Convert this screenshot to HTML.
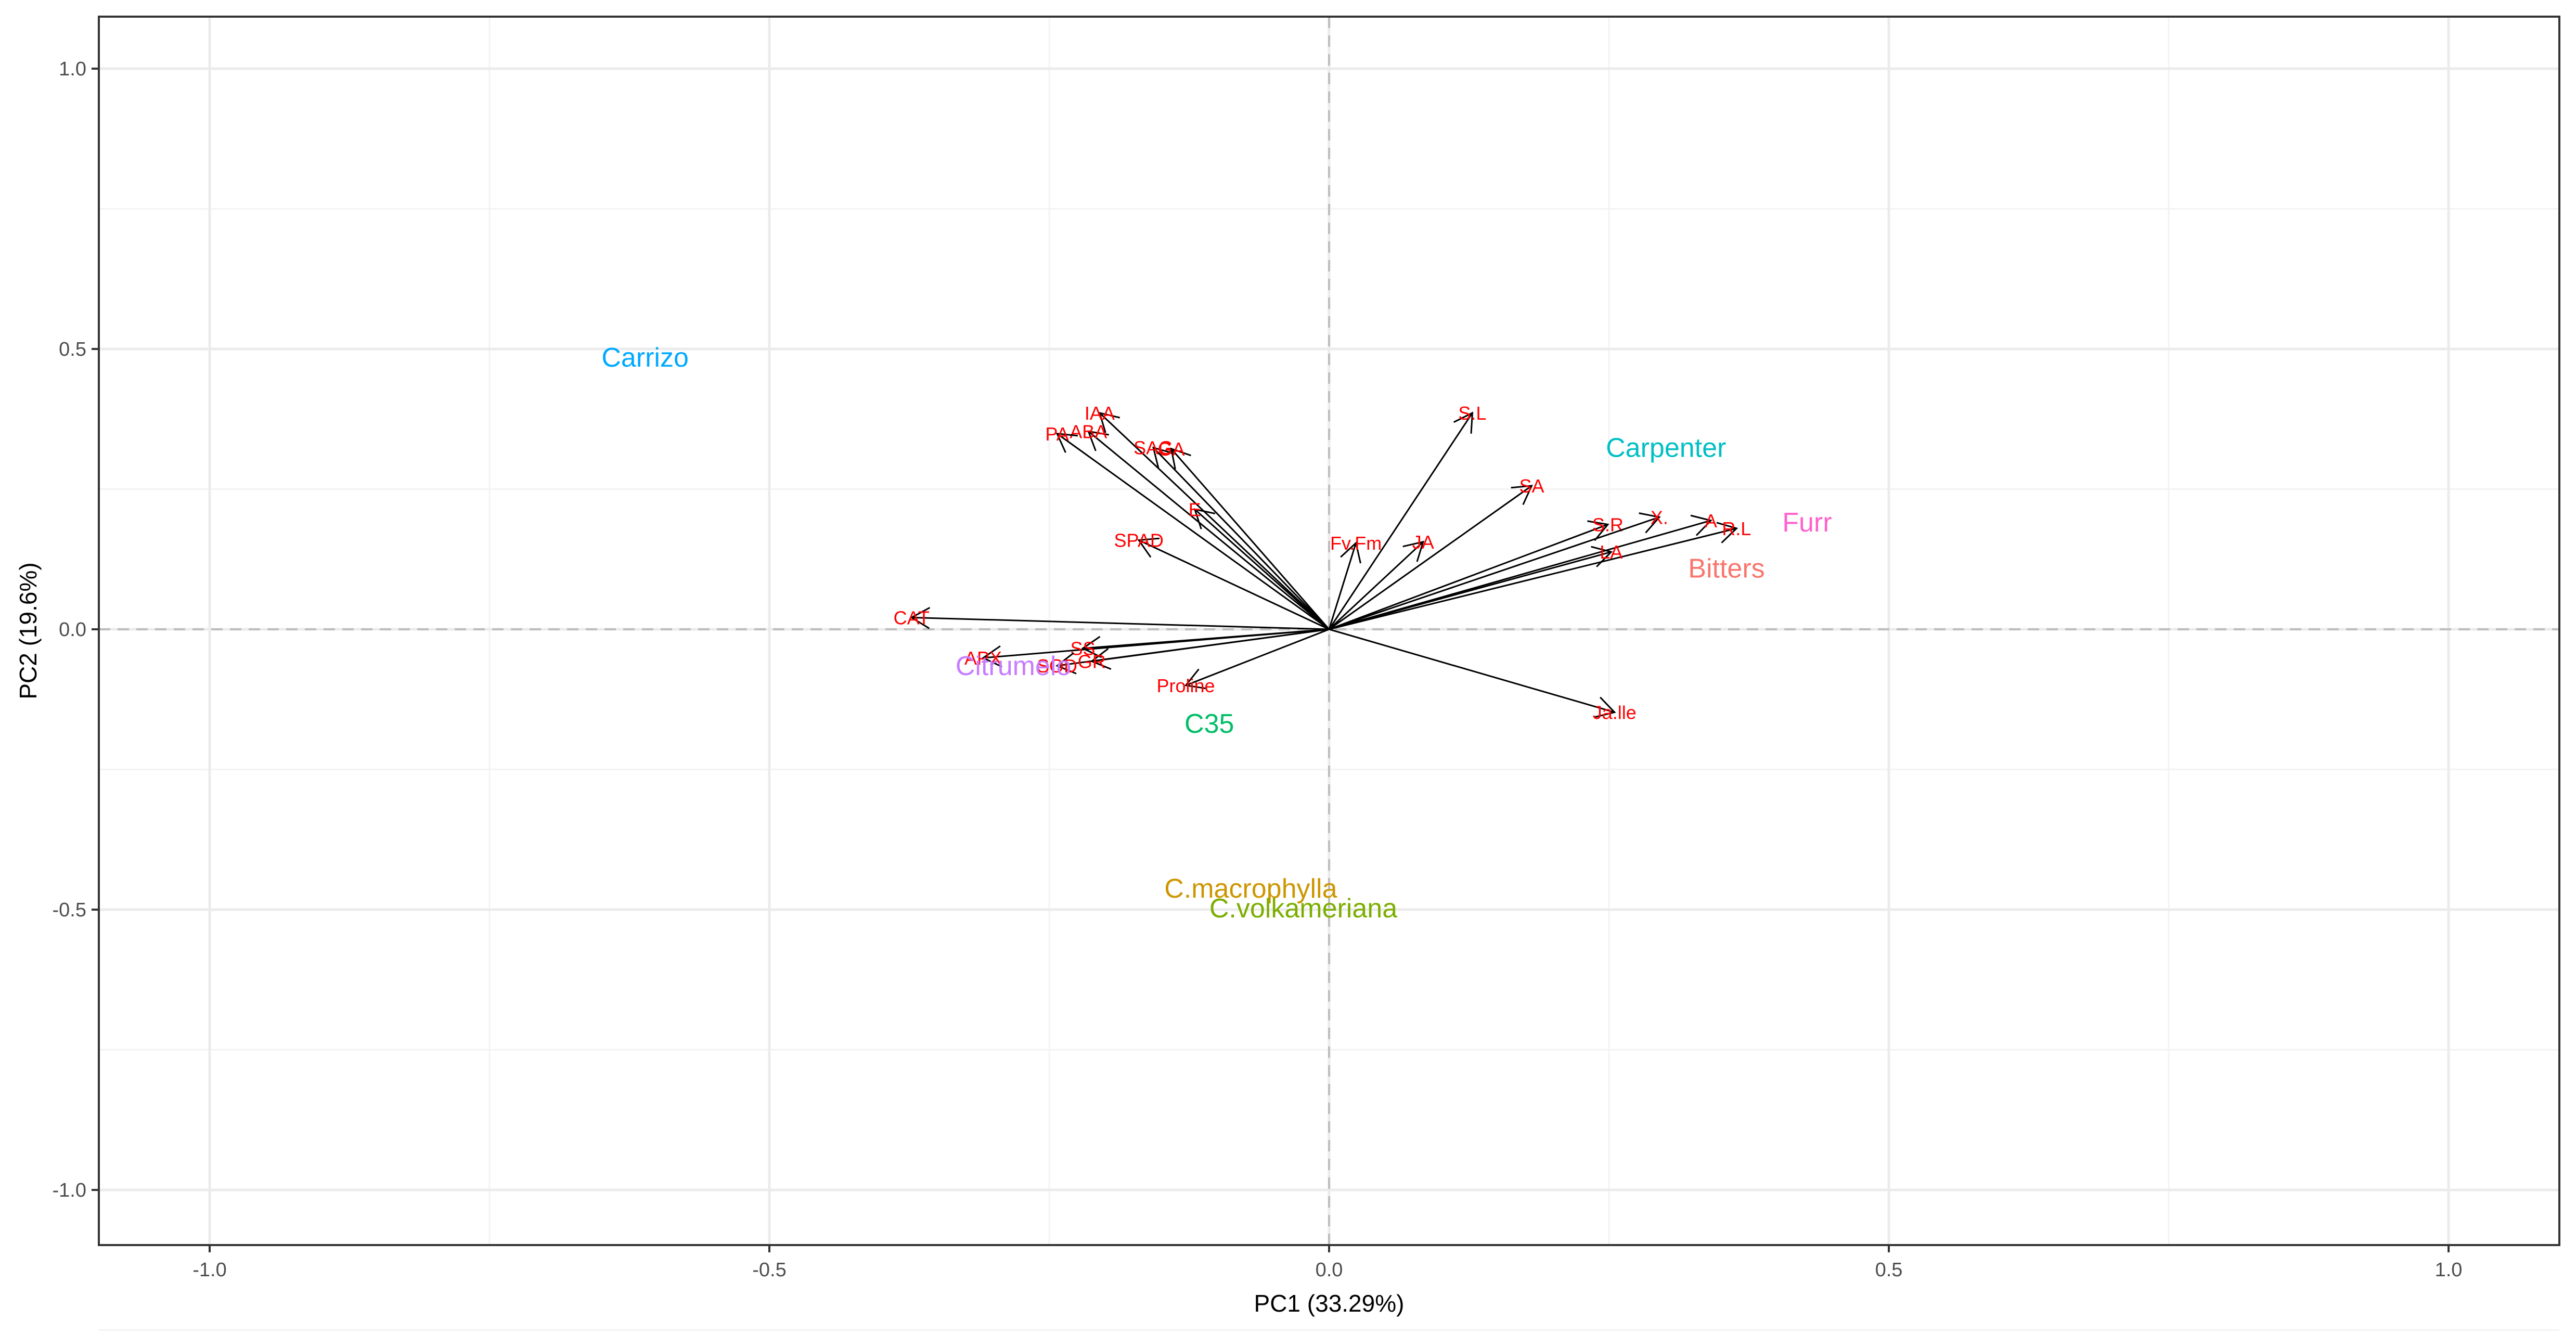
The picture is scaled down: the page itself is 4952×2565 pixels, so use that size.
<!DOCTYPE html>
<html><head><meta charset="utf-8"><style>
html,body{margin:0;padding:0;background:#fff;}
svg{display:block;font-family:"Liberation Sans",Arial,sans-serif;}
</style></head><body>
<svg id="chart" width="4952" height="2565" viewBox="0 0 4952 2565" xmlns="http://www.w3.org/2000/svg">
<rect x="0" y="0" width="4952" height="2565" fill="#fff"/>
<g id="grid"></g>
<g id="arrows"></g>
<g id="groups"></g>
<g id="axes"></g>
</svg>
<script>
const varNames = ["IAA","ABA","PA","SAG","GA","E","SPAD","CAT","APX","SS","SOD","GR","Proline","Fv.Fm","JA","S.L","SA","S.R","X.","A","R.L","LA","Ja.lle"];
const varPC1 = [-0.205,-0.215,-0.243,-0.157,-0.141,-0.120,-0.170,-0.373,-0.309,-0.220,-0.243,-0.212,-0.128,0.024,0.084,0.128,0.181,0.249,0.295,0.341,0.364,0.252,0.255];
const varPC2 = [0.386,0.353,0.349,0.324,0.322,0.214,0.159,0.021,-0.051,-0.034,-0.065,-0.057,-0.100,0.154,0.156,0.386,0.256,0.187,0.200,0.194,0.180,0.138,-0.148];
const groupNames = ["Carrizo","Carpenter","Furr","Bitters","Citrumelo","C35","C.macrophylla","C.volkameriana"];
const groupPC1 = [-0.611,0.301,0.427,0.355,-0.282,-0.107,-0.070,-0.023];
const groupPC2 = [0.485,0.324,0.191,0.109,-0.065,-0.168,-0.462,-0.497];
const groupColors = ["#00A9FF","#00BFC4","#FF61CC","#F8766D","#C77CFF","#00BE67","#CD9600","#7CAE00"];
const xTicks = [-1.0,-0.5,0.0,0.5,1.0];
const yTicks = [-1.0,-0.5,0.0,0.5,1.0];
const xTickLabels = ["-1.0","-0.5","0.0","0.5","1.0"];
const yTickLabels = ["-1.0","-0.5","0.0","0.5","1.0"];

const NS="http://www.w3.org/2000/svg";
const L=190,R=4920,T=32,B=2394;
const sx=v=>2555+v*2152;
const sy=v=>1210-v*1078;
function mk(tag,attrs,parent){const e=document.createElementNS(NS,tag);for(const k in attrs)e.setAttribute(k,attrs[k]);parent.appendChild(e);return e;}
const grid=document.getElementById('grid'),arrows=document.getElementById('arrows'),groups=document.getElementById('groups'),axes=document.getElementById('axes');

for(let i=-5;i<=5;i++){const v=i*0.25;if(Math.abs(i)%2===1){
 let g1=mk('line',{x1:sx(v),x2:sx(v),y1:T,y2:B,stroke:'#F3F3F3','stroke-width':3},grid);
 
 
 let g2=mk('line',{x1:L,x2:R,y1:sy(v),y2:sy(v),stroke:'#F3F3F3','stroke-width':3},grid);
 
 
}}
xTicks.forEach(v=>{let g=mk('line',{x1:sx(v),x2:sx(v),y1:T,y2:B,stroke:'#EBEBEB','stroke-width':5},grid);
 
 });
yTicks.forEach(v=>{let g=mk('line',{x1:L,x2:R,y1:sy(v),y2:sy(v),stroke:'#EBEBEB','stroke-width':5},grid);
 
 });
let zx=mk('line',{x1:sx(0),x2:sx(0),y1:T,y2:B,stroke:'#BEBEBE','stroke-width':4,'stroke-dasharray':'22 14'},grid);


let zy=mk('line',{x1:L,x2:R,y1:sy(0),y2:sy(0),stroke:'#BEBEBE','stroke-width':4,'stroke-dasharray':'22 14'},grid);



varNames.forEach((n,i)=>{
 const x0=sx(0),y0=sy(0),x1=sx(varPC1[i]),y1=sy(varPC2[i]);
 const g=mk('g',{},arrows);
 
 
 mk('line',{x1:x0,y1:y0,x2:x1,y2:y1,stroke:'#000','stroke-width':3},g);
 const a=Math.atan2(y1-y0,x1-x0),h=40,s=Math.PI/6;
 mk('polyline',{points:`${x1-h*Math.cos(a-s)},${y1-h*Math.sin(a-s)} ${x1},${y1} ${x1-h*Math.cos(a+s)},${y1-h*Math.sin(a+s)}`,fill:'none',stroke:'#000','stroke-width':3},g);
 const t=mk('text',{x:x1,y:y1+13,'font-size':36,fill:'#FF0000','text-anchor':'middle'},g);
 t.textContent=n;
 
 
});
groupNames.forEach((n,i)=>{
 const t=mk('text',{x:sx(groupPC1[i]),y:sy(groupPC2[i])+18,'font-size':52,fill:groupColors[i],'text-anchor':'middle'},groups);
 t.textContent=n;
 
 
});
let br=mk('rect',{x:L,y:T,width:R-L,height:B-T,fill:'none',stroke:'#333','stroke-width':4},axes);


xTicks.forEach((v,i)=>{
 mk('line',{x1:sx(v),x2:sx(v),y1:B,y2:B+14,stroke:'#333','stroke-width':4},axes);
 const t=mk('text',{x:sx(v),y:B+60,'font-size':38,fill:'#4D4D4D','text-anchor':'middle'},axes);
 t.textContent=xTickLabels[i];
 
 
});
yTicks.forEach((v,i)=>{
 mk('line',{x1:L-14,x2:L,y1:sy(v),y2:sy(v),stroke:'#333','stroke-width':4},axes);
 const t=mk('text',{x:L-24,y:sy(v)+13,'font-size':38,fill:'#4D4D4D','text-anchor':'end'},axes);
 t.textContent=yTickLabels[i];
 
 
});
const xt=mk('text',{x:(L+R)/2,y:2522,'font-size':46,fill:'#000','text-anchor':'middle'},axes);
xt.textContent='PC1 (33.29%)';


const yt=mk('text',{x:0,y:0,'font-size':46,fill:'#000','text-anchor':'middle',transform:`translate(70,${(T+B)/2}) rotate(-90)`},axes);
yt.textContent='PC2 (19.6%)';


</script>
</body></html>
